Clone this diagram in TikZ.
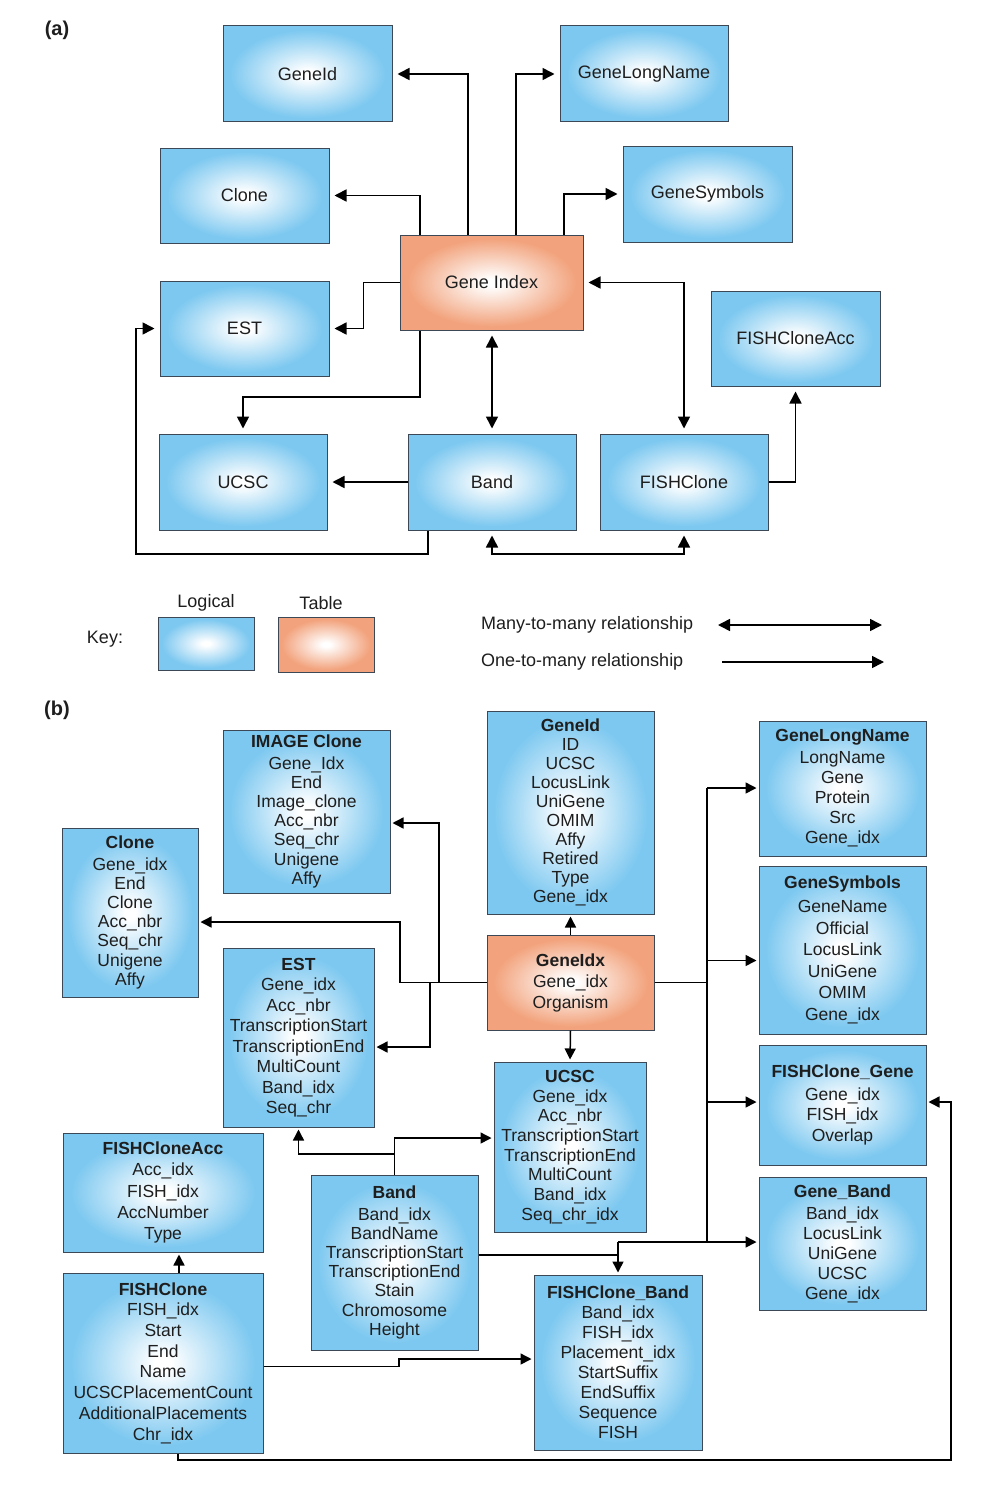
\documentclass[tikz,border=0pt]{standalone}
\usepackage{fontspec}
\setmainfont{Liberation Sans}
\usetikzlibrary{arrows.meta}
\definecolor{lblue}{RGB}{125,200,240}
\definecolor{lorange}{RGB}{242,163,125}
\definecolor{boxline}{RGB}{60,72,85}
\definecolor{txt}{RGB}{30,30,30}
\pgfdeclareradialshading{lshade}{\pgfpoint{0bp}{0bp}}{color(0bp)=(white);color(2bp)=(white);color(23bp)=(lblue);color(50bp)=(lblue)}
\pgfdeclareradialshading{tshade}{\pgfpoint{0bp}{0bp}}{color(0bp)=(white);color(2bp)=(white);color(23bp)=(lorange);color(50bp)=(lorange)}
\tikzset{
  lbox/.style={draw=boxline, line width=1pt, shading=lshade, align=center, inner sep=0pt, text=txt},
  tbox/.style={draw=boxline, line width=1pt, shading=tshade, align=center, inner sep=0pt, text=txt},
  afont/.style={font=\fontsize{18}{22}\selectfont},
  rowfont/.style={font=\fontsize{17.5}{#1}\selectfont},
  tipA/.tip={Triangle[length=12pt,width=12pt]},
  tipB/.tip={Triangle[length=11pt,width=11pt]},
  lineA/.style={line width=1.6pt, draw=black},
  arrA/.style={lineA, -tipA, shorten >=5pt},
  darrA/.style={lineA, tipA-tipA, shorten >=5pt, shorten <=5pt},
  lineB/.style={line width=1.5pt, draw=black},
  arrB/.style={lineB, -tipB, shorten >=2pt},
}
\begin{document}
\begin{tikzpicture}[x=1pt, y=-1pt]
\useasboundingbox (0,0) rectangle (1000,1493);
\fill[white] (0,0) rectangle (1000,1493);

% ---------------- (a) ----------------
\node[font=\fontsize{20}{24}\selectfont\bfseries, text=txt] (la) at (57,30) {(a)};

\node[lbox, afont, minimum width=169pt, minimum height=96pt] (geneid) at (307.5,74) {GeneId};
\node[lbox, afont, minimum width=168pt, minimum height=96pt] (glname) at (644,74) {GeneLongName};
\node[lbox, afont, minimum width=169pt, minimum height=95pt] (clone) at (244.5,195.5) {Clone};
\node[lbox, afont, minimum width=169pt, minimum height=96pt] (gsym) at (707.5,194) {GeneSymbols};
\node[tbox, afont, minimum width=183pt, minimum height=95pt] (gi) at (491.5,282.5) {Gene Index};
\node[lbox, afont, minimum width=169pt, minimum height=95pt] (est) at (244.5,328.5) {EST};
\node[lbox, afont, minimum width=169pt, minimum height=95pt] (fcacc) at (795.5,338.5) {FISHCloneAcc};
\node[lbox, afont, minimum width=168pt, minimum height=96pt] (ucsc) at (243,482) {UCSC};
\node[lbox, afont, minimum width=168pt, minimum height=96pt] (band) at (492,482) {Band};
\node[lbox, afont, minimum width=168pt, minimum height=96pt] (fclone) at (684,482) {FISHClone};

\draw[arrA] (gi.north -| 468,0) |- (geneid.east);
\draw[arrA] (gi.north -| 516,0) |- (glname.west);
\draw[arrA] (gi.north -| 420,0) |- (clone.east);
\draw[arrA] (gi.north -| 564,0) |- (gsym.west);
\draw[arrA] (gi.west) -- ++(-36,0) |- (est.east);
\draw[arrA] (gi.south -| 420,0) |- (ucsc.north |- 0,397) -- (ucsc.north);
\draw[darrA] (band.north) -- (band.north |- gi.south);
\draw[darrA] (fclone.north) |- (gi.east);
\draw[arrA] (band.west) -- (ucsc.east);
\draw[arrA] (fclone.east) -| (fcacc.south);
\draw[arrA] (band.south -| 428,0) |- (136,554) |- (est.west);
\draw[darrA] (band.south) -- (band.south |- 0,554) -| (fclone.south);

% key
\node[afont, text=txt] (key) at (105,639) {Key:};
\node[afont, text=txt] (klog) at (206,603) {Logical};
\node[afont, text=txt] (ktab) at (321,603) {Table};
\node[lbox, minimum width=96pt, minimum height=53pt] (kbl) at (206,643.5) {};
\node[tbox, minimum width=96pt, minimum height=55pt] (kbt) at (326,644.5) {};
\node[afont, text=txt, anchor=west, inner sep=0pt] (kmm) at (481,625) {Many-to-many relationship};
\node[afont, text=txt, anchor=west, inner sep=0pt] (kom) at (481,662) {One-to-many relationship};
\coordinate (mm1) at (718,625);
\coordinate (mm2) at (882,625);
\coordinate (om1) at (722,662);
\coordinate (om2) at (884,662);
\draw[lineA, tipA-tipA] (mm1) -- (mm2);
\draw[lineA, -tipA] (om1) -- (om2);

% ---------------- (b) ----------------
\node[font=\fontsize{20}{24}\selectfont\bfseries, text=txt] (lb) at (57,710) {(b)};

\node[lbox, rowfont=19.2, minimum width=167pt, minimum height=163pt] (imgclone) at (306.5,811.5)
  {\textbf{IMAGE Clone}\\[2pt] Gene\_Idx\\ End\\ Image\_clone\\ Acc\_nbr\\ Seq\_chr\\ Unigene\\ Affy};
\node[lbox, rowfont=19.2, minimum width=136pt, minimum height=169pt] (bclone) at (130,912.5)
  {\textbf{Clone}\\[2pt] Gene\_idx\\ End\\ Clone\\ Acc\_nbr\\ Seq\_chr\\ Unigene\\ Affy};
\node[lbox, rowfont=19, minimum width=167pt, minimum height=203pt] (bgeneid) at (570.5,812.5)
  {\textbf{GeneId}\\ ID\\ UCSC\\ LocusLink\\ UniGene\\ OMIM\\ Affy\\ Retired\\ Type\\ Gene\_idx};
\node[lbox, rowfont=20, minimum width=167pt, minimum height=135pt] (bglname) at (842.5,788.5)
  {\textbf{GeneLongName}\\[2pt] LongName\\ Gene\\ Protein\\ Src\\ Gene\_idx};
\node[lbox, rowfont=21.6, minimum width=167pt, minimum height=168pt] (bgsym) at (842.5,950)
  {\textbf{GeneSymbols}\\[2pt] GeneName\\ Official\\ LocusLink\\ UniGene\\ OMIM\\ Gene\_idx};
\node[tbox, rowfont=21, minimum width=167pt, minimum height=95pt] (gidx) at (570.5,982.5)
  {\textbf{GeneIdx}\\ Gene\_idx\\ Organism};
\node[lbox, rowfont=20.5, minimum width=151pt, minimum height=179pt] (best) at (298.5,1037.5)
  {\textbf{EST}\\ Gene\_idx\\ Acc\_nbr\\ TranscriptionStart\\ TranscriptionEnd\\ MultiCount\\ Band\_idx\\ Seq\_chr};
\node[lbox, rowfont=19.7, minimum width=152pt, minimum height=170pt] (bucsc) at (570,1147)
  {\textbf{UCSC}\\ Gene\_idx\\ Acc\_nbr\\ TranscriptionStart\\ TranscriptionEnd\\ MultiCount\\ Band\_idx\\ Seq\_chr\_idx};
\node[lbox, rowfont=20.5, minimum width=167pt, minimum height=120pt] (fcg) at (842.5,1105)
  {\textbf{FISHClone\_Gene}\\[2pt] Gene\_idx\\ FISH\_idx\\ Overlap};
\node[lbox, rowfont=20, minimum width=167pt, minimum height=133pt] (gband) at (842.5,1243.5)
  {\textbf{Gene\_Band}\\[2pt] Band\_idx\\ LocusLink\\ UniGene\\ UCSC\\ Gene\_idx};
\node[lbox, rowfont=21.3, minimum width=200pt, minimum height=119pt] (bfcacc) at (163,1192.5)
  {\textbf{FISHCloneAcc}\\ Acc\_idx\\ FISH\_idx\\ AccNumber\\ Type};
\node[lbox, rowfont=19.2, minimum width=167pt, minimum height=175pt] (bband) at (394.5,1262.5)
  {\textbf{Band}\\[2pt] Band\_idx\\ BandName\\ TranscriptionStart\\ TranscriptionEnd\\ Stain\\ Chromosome\\ Height};
\node[lbox, rowfont=20.7, minimum width=200pt, minimum height=180pt] (bfclone) at (163,1363)
  {\textbf{FISHClone}\\ FISH\_idx\\ Start\\ End\\ Name\\ UCSCPlacementCount\\ AdditionalPlacements\\ Chr\_idx};
\node[lbox, rowfont=20, minimum width=168pt, minimum height=175pt] (fcb) at (618,1362.5)
  {\textbf{FISHClone\_Band}\\ Band\_idx\\ FISH\_idx\\ Placement\_idx\\ StartSuffix\\ EndSuffix\\ Sequence\\ FISH};

% GeneIdx connections
\draw[arrB] (gidx.north) -- (bgeneid.south);
\draw[arrB] (gidx.south) -- (bucsc.north);
\coordinate (jl1) at (439,982.5);
\coordinate (jl2) at (430,982.5);
\draw[arrB] (gidx.west) -| (400,922) -- (bclone.east |- 0,922);
\draw[arrB] (jl1) |- (imgclone.east |- 0,823);
\draw[arrB] (jl2) |- (best.east |- 0,1047);
\coordinate (jr) at (707,982.5);
\coordinate (jrt) at (707,788);
\coordinate (jrb) at (707,1242);
\draw[lineB] (gidx.east) -- (jr);
\draw[lineB] (jrt) -- (jrb);
\draw[arrB] (jrt) -- (bglname.west |- 0,788);
\draw[arrB] (jrt |- 0,960.5) -- (bgsym.west |- 0,960.5);
\draw[arrB] (jrt |- 0,1102) -- (fcg.west |- 0,1102);
\draw[arrB] (fcb.north |- jrb) -- (gband.west |- jrb);
\draw[arrB] (fcb.north |- jrb) -- (fcb.north);
% Band connections
\draw[lineB] (bband.east |- 0,1255) -- (fcb.north |- 0,1255);
\draw[arrB] (bband.north) |- (bucsc.west |- 0,1138);
\draw[arrB] (bband.north |- 0,1154) -| (best.south);
% FISHClone connections
\draw[arrB] (bfclone.north -| 179,0) -- (bfcacc.south -| 179,0);
\draw[arrB] (bfclone.east |- 0,1366.5) -| (399,1359) -- (fcb.west |- 0,1359);
\draw[arrB] (bfclone.south -| 178,0) |- (951,1460) |- (fcg.east |- 0,1102);
\end{tikzpicture}
\end{document}
